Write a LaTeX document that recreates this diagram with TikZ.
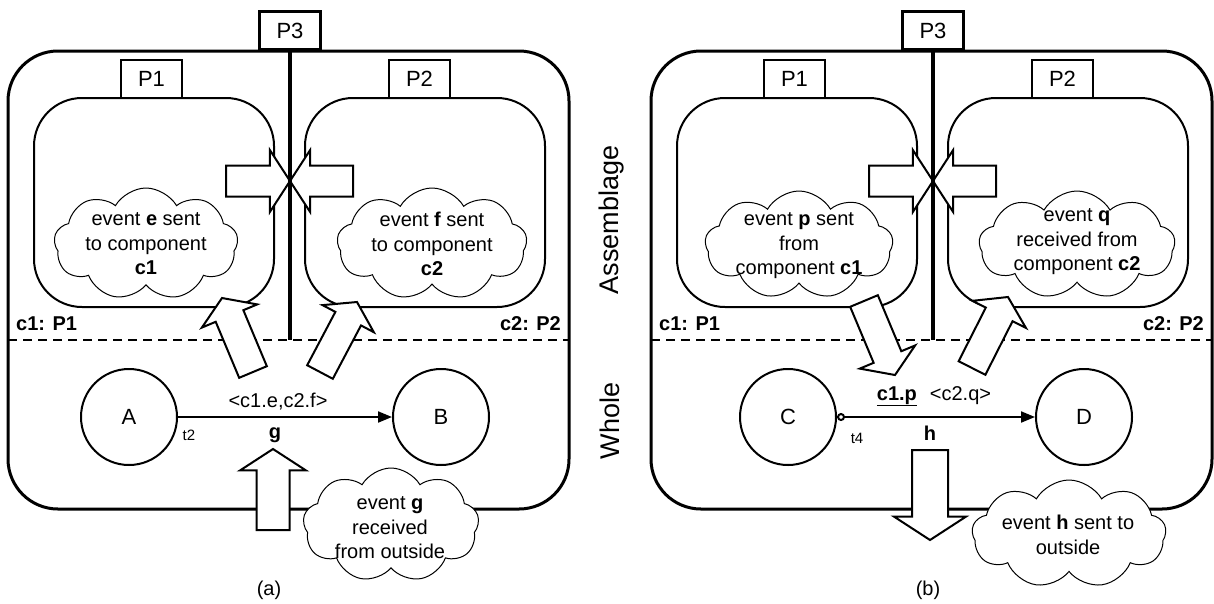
\documentclass[tikz,border=0pt]{standalone}
\usepackage{fontspec}
\setmainfont{Liberation Sans}
\usetikzlibrary{arrows.meta,calc,shapes.symbols}

\newcommand{\fatarrow}[3][15.5]{%
  \coordinate (fathead) at ($(#3)!1.3*#1pt!(#2)$);
  \draw[fatarr] ($(#2)!#1pt!90:(#3)$) -- ($(fathead)!#1pt!90:(#3)$) -- ($(fathead)!2*#1pt!90:(#3)$) -- (#3)
    -- ($(fathead)!2*#1pt!-90:(#3)$) -- ($(fathead)!#1pt!-90:(#3)$) -- ($(#2)!#1pt!-90:(#3)$) -- cycle;}

\begin{document}
\begin{tikzpicture}[x=1pt,y=-1pt,>={Triangle[length=14pt,width=11pt]},
  frame/.style={draw,line width=3pt,rounded corners=50pt},
  part/.style={draw,line width=2pt,rounded corners=48pt},
  port/.style={draw,fill=white,line width=2pt,minimum width=61pt,minimum height=38pt,inner sep=0pt,font=\fontsize{22}{26}\selectfont},
  state/.style={draw,circle,line width=2pt,minimum size=96pt,inner sep=0pt,font=\fontsize{22}{26}\selectfont},
  bubble/.style={cloud,draw,fill=white,line width=1pt,cloud puffs=9,cloud puff arc=120,inner sep=0pt},
  txt/.style={align=center,inner sep=0pt,font=\fontsize{20}{24.5}\selectfont},
  lbl/.style={inner sep=0pt,font=\fontsize{20}{24}\selectfont},
  role/.style={inner sep=0pt,font=\bfseries\fontsize{20}{24}\selectfont},
  small/.style={inner sep=0pt,font=\fontsize{15}{18}\selectfont},
  side/.style={inner sep=0pt,font=\fontsize{27}{32}\selectfont},
  fatarr/.style={draw,fill=white,line width=2pt,line join=miter},
  trans/.style={->,line width=2pt}]
\useasboundingbox (0,0) rectangle (1214,603);

\foreach \dx in {0,643}{
  \begin{scope}[shift={(\dx,0)}]
    \draw[frame] (8,51) rectangle (569,509);
    \draw[part] (34,98) rectangle (274,307);
    \draw[part] (305,98) rectangle (545,307);
    \node[port] (p1) at (151.5,78.5) {P1};
    \node[port] (p2) at (419.5,78.5) {P2};
    \coordinate (inl) at (226,181);
    \coordinate (inr) at (353,181);
    \coordinate (mid) at (290,181);
    \fatarrow{inl}{mid}
    \fatarrow{inr}{mid}
    \node[port,line width=3pt] (p3) at (290,30.5) {P3};
    \draw[line width=3.5pt] (p3.south) -- +(0,289);
    \draw[line width=2pt,dash pattern=on 9pt off 6pt] (8,340) -- (569,340);
    \node[role,anchor=base west] (r1) at (16,330) {c1: P1};
    \node[role,anchor=base east] (r2) at (561,330) {c2: P2};
  \end{scope}
}

\node[bubble,minimum width=184pt,minimum height=112pt] (ce) at (146,244) {};
\node[txt] (te) at (146,244) {event \textbf{e} sent\\to component\\\textbf{c1}};
\node[bubble,minimum width=190pt,minimum height=112pt] (cf) at (432,244) {};
\node[txt] (tf) at (432,244) {event \textbf{f} sent\\to component\\\textbf{c2}};

\node[state] (A) at (129,417) {A};
\node[state] (B) at (441,417) {B};
\draw[trans] (A) -- (B);
\node[lbl,anchor=base] (ae) at (278,407) {<c1.e,c2.f>};
\node[lbl,anchor=base] (ag) at (275,438) {\textbf{g}};
\node[small,anchor=base] (t2) at (189,440) {t2};

\coordinate (ea) at (253,372);
\coordinate (eb) at (222,298);
\fatarrow[15]{ea}{eb}
\coordinate (fa) at (320,372);
\coordinate (fb) at (357,302);
\fatarrow[14.5]{fa}{fb}
\coordinate (ga) at (273,530);
\coordinate (gb) at (273,449);
\fatarrow[16.5]{ga}{gb}
\node[bubble,minimum width=176pt,minimum height=114pt] (cg) at (391,525) {};
\node[txt] (tg) at (390,528) {event \textbf{g}\\received\\from outside};
\node[lbl,anchor=base] (la) at (269,595) {(a)};

\node[side,rotate=90] (ass) at (612,220) {Assemblage};
\node[side,rotate=90] (who) at (610,421) {Whole};

\node[bubble,minimum width=188pt,minimum height=108pt] (cp) at (799,245) {};
\node[txt] (tp) at (799,246) {event \textbf{p} sent\\from\\component \textbf{c1}};
\node[bubble,minimum width=196pt,minimum height=108pt] (cq) at (1077,245) {};
\node[txt] (tq) at (1077,242) {event \textbf{q}\\received from\\component \textbf{c2}};

\node[state] (C) at (788,417) {C};
\node[state] (D) at (1084,417) {D};
\draw[trans,{Circle[open,length=8pt,width=8pt]}->] (C) -- (D);
\node[lbl,anchor=base] (cp1) at (934,400) {\underline{\textbf{c1.p}}\hspace{13pt}<c2.q>};
\node[lbl,anchor=base] (ch1) at (930,440) {\textbf{h}};
\node[small,anchor=base] (t4) at (857,443) {t4};

\coordinate (pa) at (864,301);
\coordinate (pb) at (895,375);
\fatarrow[15]{pa}{pb}
\coordinate (qa) at (972,368);
\coordinate (qb) at (1008,297);
\fatarrow[15]{qa}{qb}
\coordinate (ha) at (930,450);
\coordinate (hz) at (930,540);
\fatarrow[18]{ha}{hz}
\node[bubble,minimum width=194pt,minimum height=108pt] (ch) at (1069,534) {};
\node[txt] (th) at (1068,535) {event \textbf{h} sent to\\outside};
\node[lbl,anchor=base] (lb) at (928,595) {(b)};
\end{tikzpicture}
\end{document}
